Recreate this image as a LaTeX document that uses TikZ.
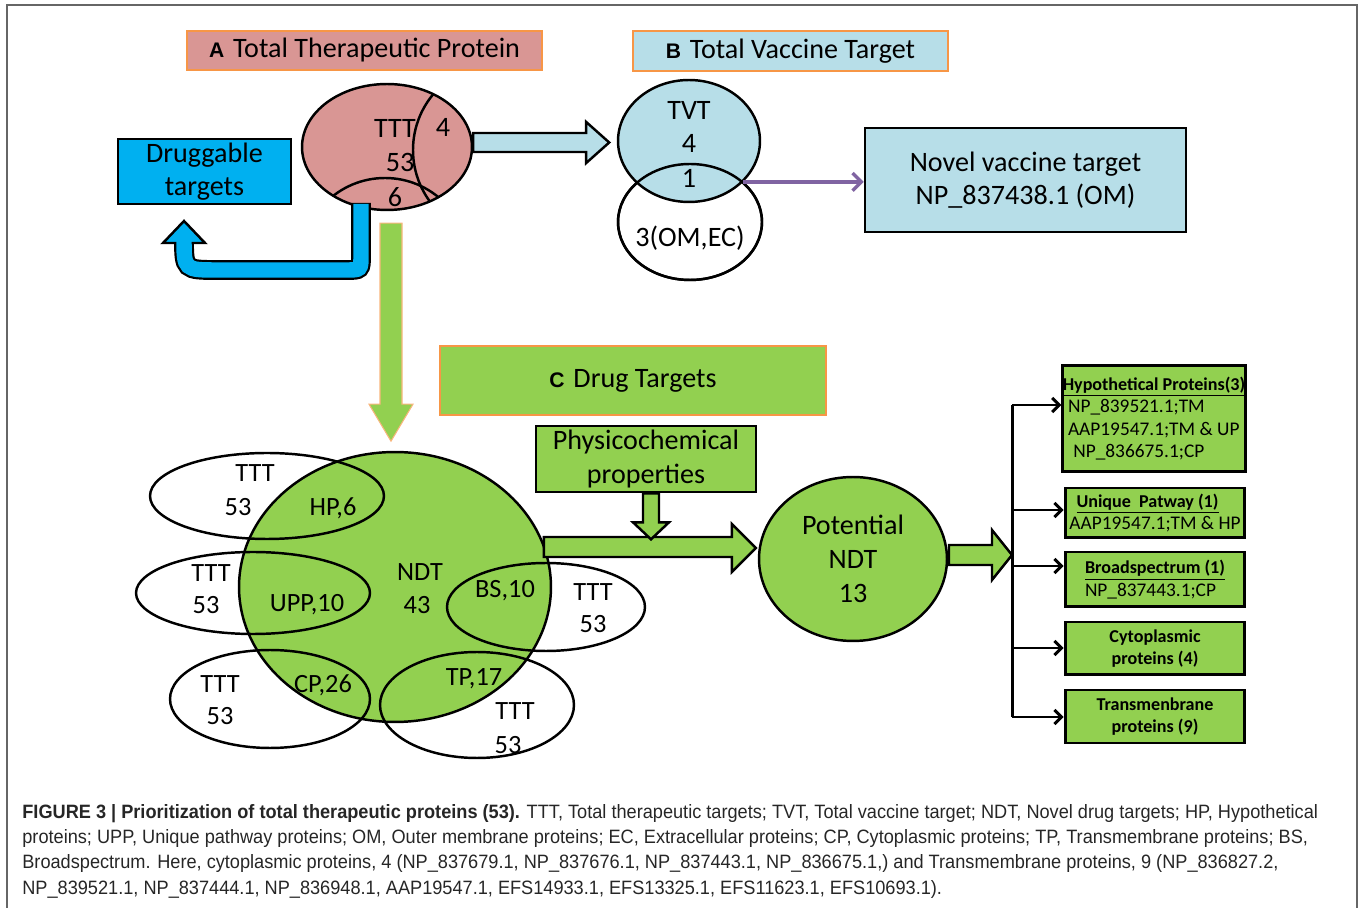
\documentclass[tikz,border=0pt]{standalone}
\usepackage{fontspec}
\setmainfont{Carlito}
\newfontfamily\capfont[FakeStretch=0.94]{Liberation Sans}
\newfontfamily\tagfont{Liberation Sans}
\usetikzlibrary{shapes.geometric,calc,arrows.meta}
\definecolor{pinkA}{HTML}{D99694}
\definecolor{blueB}{HTML}{B7DEE8}
\definecolor{greenC}{HTML}{92D050}
\definecolor{skyD}{HTML}{00B0F0}
\definecolor{edgeO}{HTML}{F79646}
\definecolor{purpleV}{HTML}{8064A2}
\newcommand{\hdfont}{\fontsize{10.3}{12.5}\selectfont\bfseries}
\newcommand{\tagA}[1]{{\tagfont\bfseries\fontsize{12}{13}\selectfont #1}\hspace{5pt}}
\begin{document}
\begin{tikzpicture}[
x=0.02cm, y=-0.02cm,
every node/.style={
align=center,
inner sep=0pt,
font=\fontsize{16}{19}\selectfont
},
title/.style={draw=edgeO, line width=1pt},
box/.style={draw, line width=1.5pt},
oval/.style={draw, ellipse, line width=1.4pt},
vlbl/.style={font=\fontsize{15}{18}\selectfont},
blk/.style={draw, line width=1.4pt, line join=miter},
side/.style={draw, line width=1.7pt, fill=greenC, minimum width=3.6cm, align=left,
font=\fontsize{11}{12.8}\selectfont},
hd/.style={font=\hdfont},
fork/.style={line width=1.7pt, -{Straight Barb[length=4pt,width=8pt]}}
]
\useasboundingbox (0,0) rectangle (1360,908);

\draw[black!60, line width=1.1pt] (7,908) -- (7,5) -- (1357,5) -- (1357,908);

\node[title, fill=pinkA, minimum width=7.1cm, minimum height=0.78cm] (A) at (364.5,50.5)
{\tagA{A}Total Therapeutic Protein};

\node[title, fill=blueB, minimum width=6.3cm, minimum height=0.8cm] (B) at (790.5,51)
{\tagA{B}Total Vaccine Target};

\node[title, fill=greenC, minimum width=7.72cm, minimum height=1.38cm] (C) at (633,380.5)
{\tagA{C}Drug Targets};

\node[box, fill=skyD, minimum width=3.46cm, minimum height=1.3cm] (D) at (204.5,171.5)
{Druggable\\targets};

\node[oval, fill=pinkA, minimum width=3.4cm, minimum height=2.52cm] (P) at (387,147) {};
\begin{scope}
\clip (P.center) ellipse [x radius=85, y radius=63];
\draw[line width=1.4pt] (500,150) circle [radius=87];
\draw[line width=1.4pt] (385,262) circle [radius=84];
\end{scope}
\node (pt) at (395,128) {TTT};
\node (p53) at (400,162) {53};
\node (p4) at (443,127) {4};
\node (p6) at (395,197) {6};

\node[oval, fill=white, minimum width=2.88cm, minimum height=2.32cm] (W) at (690,222) {};
\node[oval, fill=blueB, minimum width=2.84cm, minimum height=2.44cm] (V) at (689,141) {};
\draw[line width=1.4pt] (W.center) ellipse [x radius=72, y radius=58];
\node (vt) at (689,110) {TVT};
\node (v4) at (689,143) {4};
\node (v1) at (689,178) {1};
\node (w3) at (690,238) {3(OM,EC)};

\node[box, fill=blueB, minimum width=6.42cm, minimum height=2.08cm] (N) at (1025.5,180)
{Novel vaccine target\\NP\_837438.1 (OM)};

\draw[purpleV, line width=1.9pt, -{Straight Barb[length=5pt,width=10pt]}]
(V.-37) -- (V.-37 -| N.west);

\draw[blk, fill=blueB] ($(P.east)+(0,-14)$) -- ++(113,0) -- ++(0,-11) -- ++(23,20.5)
-- ++(-23,20.5) -- ++(0,-11) -- ++(-113,0) -- cycle;

\draw[line width=11.3pt] (361,203) -- (361,255) .. controls (361,270) .. (346,270)
-- (218,270) .. controls (184,270) .. (184,238) -- (184,243);
\draw[blk, fill=skyD] (163,243) -- (184,221) -- (205,243) -- cycle;
\draw[skyD, line width=8.8pt] (361,204) -- (361,255) .. controls (361,270) .. (346,270)
-- (218,270) .. controls (184,270) .. (184,238);

\draw[edgeO!70, line width=0.6pt, fill=greenC] ($(P.south)+(-7,12)$) -- ++(22,0) -- ++(0,181)
-- ++(11,0) -- ++(-22,37) -- ++(-22,-37) -- ++(11,0) -- cycle;

\node[oval, fill=greenC, minimum width=6.24cm, minimum height=5.4cm] (Q) at (395,587) {};
\node[oval, minimum width=4.68cm, minimum height=1.72cm] (e1) at (267,496) {};
\node[oval, minimum width=4.68cm, minimum height=1.64cm] (e2) at (253,593) {};
\node[oval, minimum width=3.96cm, minimum height=1.76cm] (e3) at (546,607) {};
\node[oval, minimum width=4.0cm, minimum height=1.96cm] (e4) at (270,699) {};
\node[oval, minimum width=3.88cm, minimum height=2.12cm] (e5) at (477,705) {};

\node[vlbl] (q1) at (420,572) {NDT};
\node[vlbl] (q2) at (417,605) {43};
\node[vlbl] (a1) at (255,473) {TTT};
\node[vlbl] (a2) at (238,507) {53};
\node[vlbl] (a3) at (333,508) {HP,6};
\node[vlbl] (b1) at (211,573) {TTT};
\node[vlbl] (b2) at (206,605) {53};
\node[vlbl] (b3) at (307,605) {UPP,10};
\node[vlbl] (c1) at (505,591) {BS,10};
\node[vlbl] (c2) at (593,592) {TTT};
\node[vlbl] (c3) at (593,624) {53};
\node[vlbl] (d1) at (220,684) {TTT};
\node[vlbl] (d2) at (220,716) {53};
\node[vlbl] (d3) at (323,685) {CP,26};
\node[vlbl] (f1) at (474,679) {TP,17};
\node[vlbl] (f2) at (515,711) {TTT};
\node[vlbl] (f3) at (508,745) {53};

\node[box, fill=greenC, minimum width=4.4cm, minimum height=1.32cm] (Ph) at (646,459)
{Physicochemical\\properties};

\node[oval, fill=greenC, minimum width=3.76cm, minimum height=3.28cm,
font=\fontsize{16}{19.5}\selectfont] (R) at (853,559) {Potential\\NDT\\13};

\draw[blk, fill=greenC] ($(R.west)+(-2,-11)$) -- ++(-24,-24) -- ++(0,13) -- ++(-188,0)
-- ++(0,20) -- ++(188,0) -- ++(0,15) -- cycle;

\draw[blk, fill=greenC] ($(Ph.south)+(5,46)$) -- ++(-18,-17) -- ++(10,0) -- ++(0,-29)
-- ++(16,0) -- ++(0,29) -- ++(10,0) -- cycle;

\node[side, minimum width=3.64cm, minimum height=2.14cm] (h1) at (1154,418.5)
{{\hdfont\underline{Hypothetical Proteins(3)}}\\\hspace{3pt}NP\_839521.1;TM\\\hspace{3pt}AAP19547.1;TM \& UP\\\hspace{6pt}NP\_836675.1;CP};
\node[side, minimum height=1.0cm] (h2) at (1155,513)
{\hspace{4pt}{\hdfont\underline{Unique\ \ Patway (1)}}\\AAP19547.1;TM \& HP};
\node[side, minimum height=1.1cm] (h3) at (1155,579.5)
{{\hdfont\underline{Broadspectrum (1)}}\\NP\_837443.1;CP};
\node[side, minimum height=1.06cm, align=center, hd] (h4) at (1155,648.5)
{Cytoplasmic\\proteins (4)};
\node[side, minimum height=1.06cm, align=center, hd] (h5) at (1155,716.5)
{Transmenbrane\\proteins (9)};

\coordinate (k1) at (1012,405);
\coordinate (k2) at (1012,510);
\coordinate (k3) at (1012,566);
\coordinate (k4) at (1012,648);
\coordinate (k5) at (1012,717);
\coordinate (km) at (1012,555);
\draw[line width=1.7pt] (k1) -- (k5);
\draw[fork] (k1) -- (k1 -| h1.west);
\draw[fork] (k2) -- (k2 -| h2.west);
\draw[fork] (k3) -- (k3 -| h3.west);
\draw[fork] (k4) -- (k4 -| h4.west);
\draw[fork] (k5) -- (k5 -| h5.west);

\draw[blk, fill=greenC] (km) -- ++(-20,-25) -- ++(0,15) -- ++(-43,0) -- ++(0,20)
-- ++(43,0) -- ++(0,15) -- cycle;

\node[anchor=north west, align=left, text=black!85,
font=\capfont\fontsize{11}{14.4}\selectfont] (cap) at (22,804)
{\textbf{FIGURE 3 | Prioritization of total therapeutic proteins (53).} TTT, Total therapeutic targets; TVT, Total vaccine target; NDT, Novel drug targets; HP, Hypothetical\\
proteins; UPP, Unique pathway proteins; OM, Outer membrane proteins; EC, Extracellular proteins; CP, Cytoplasmic proteins; TP, Transmembrane proteins; BS,\\
Broadspectrum. Here, cytoplasmic proteins, 4 (NP\_837679.1, NP\_837676.1, NP\_837443.1, NP\_836675.1,) and Transmembrane proteins, 9 (NP\_836827.2,\\
NP\_839521.1, NP\_837444.1, NP\_836948.1, AAP19547.1, EFS14933.1, EFS13325.1, EFS11623.1, EFS10693.1).};

\end{tikzpicture}
\end{document}
